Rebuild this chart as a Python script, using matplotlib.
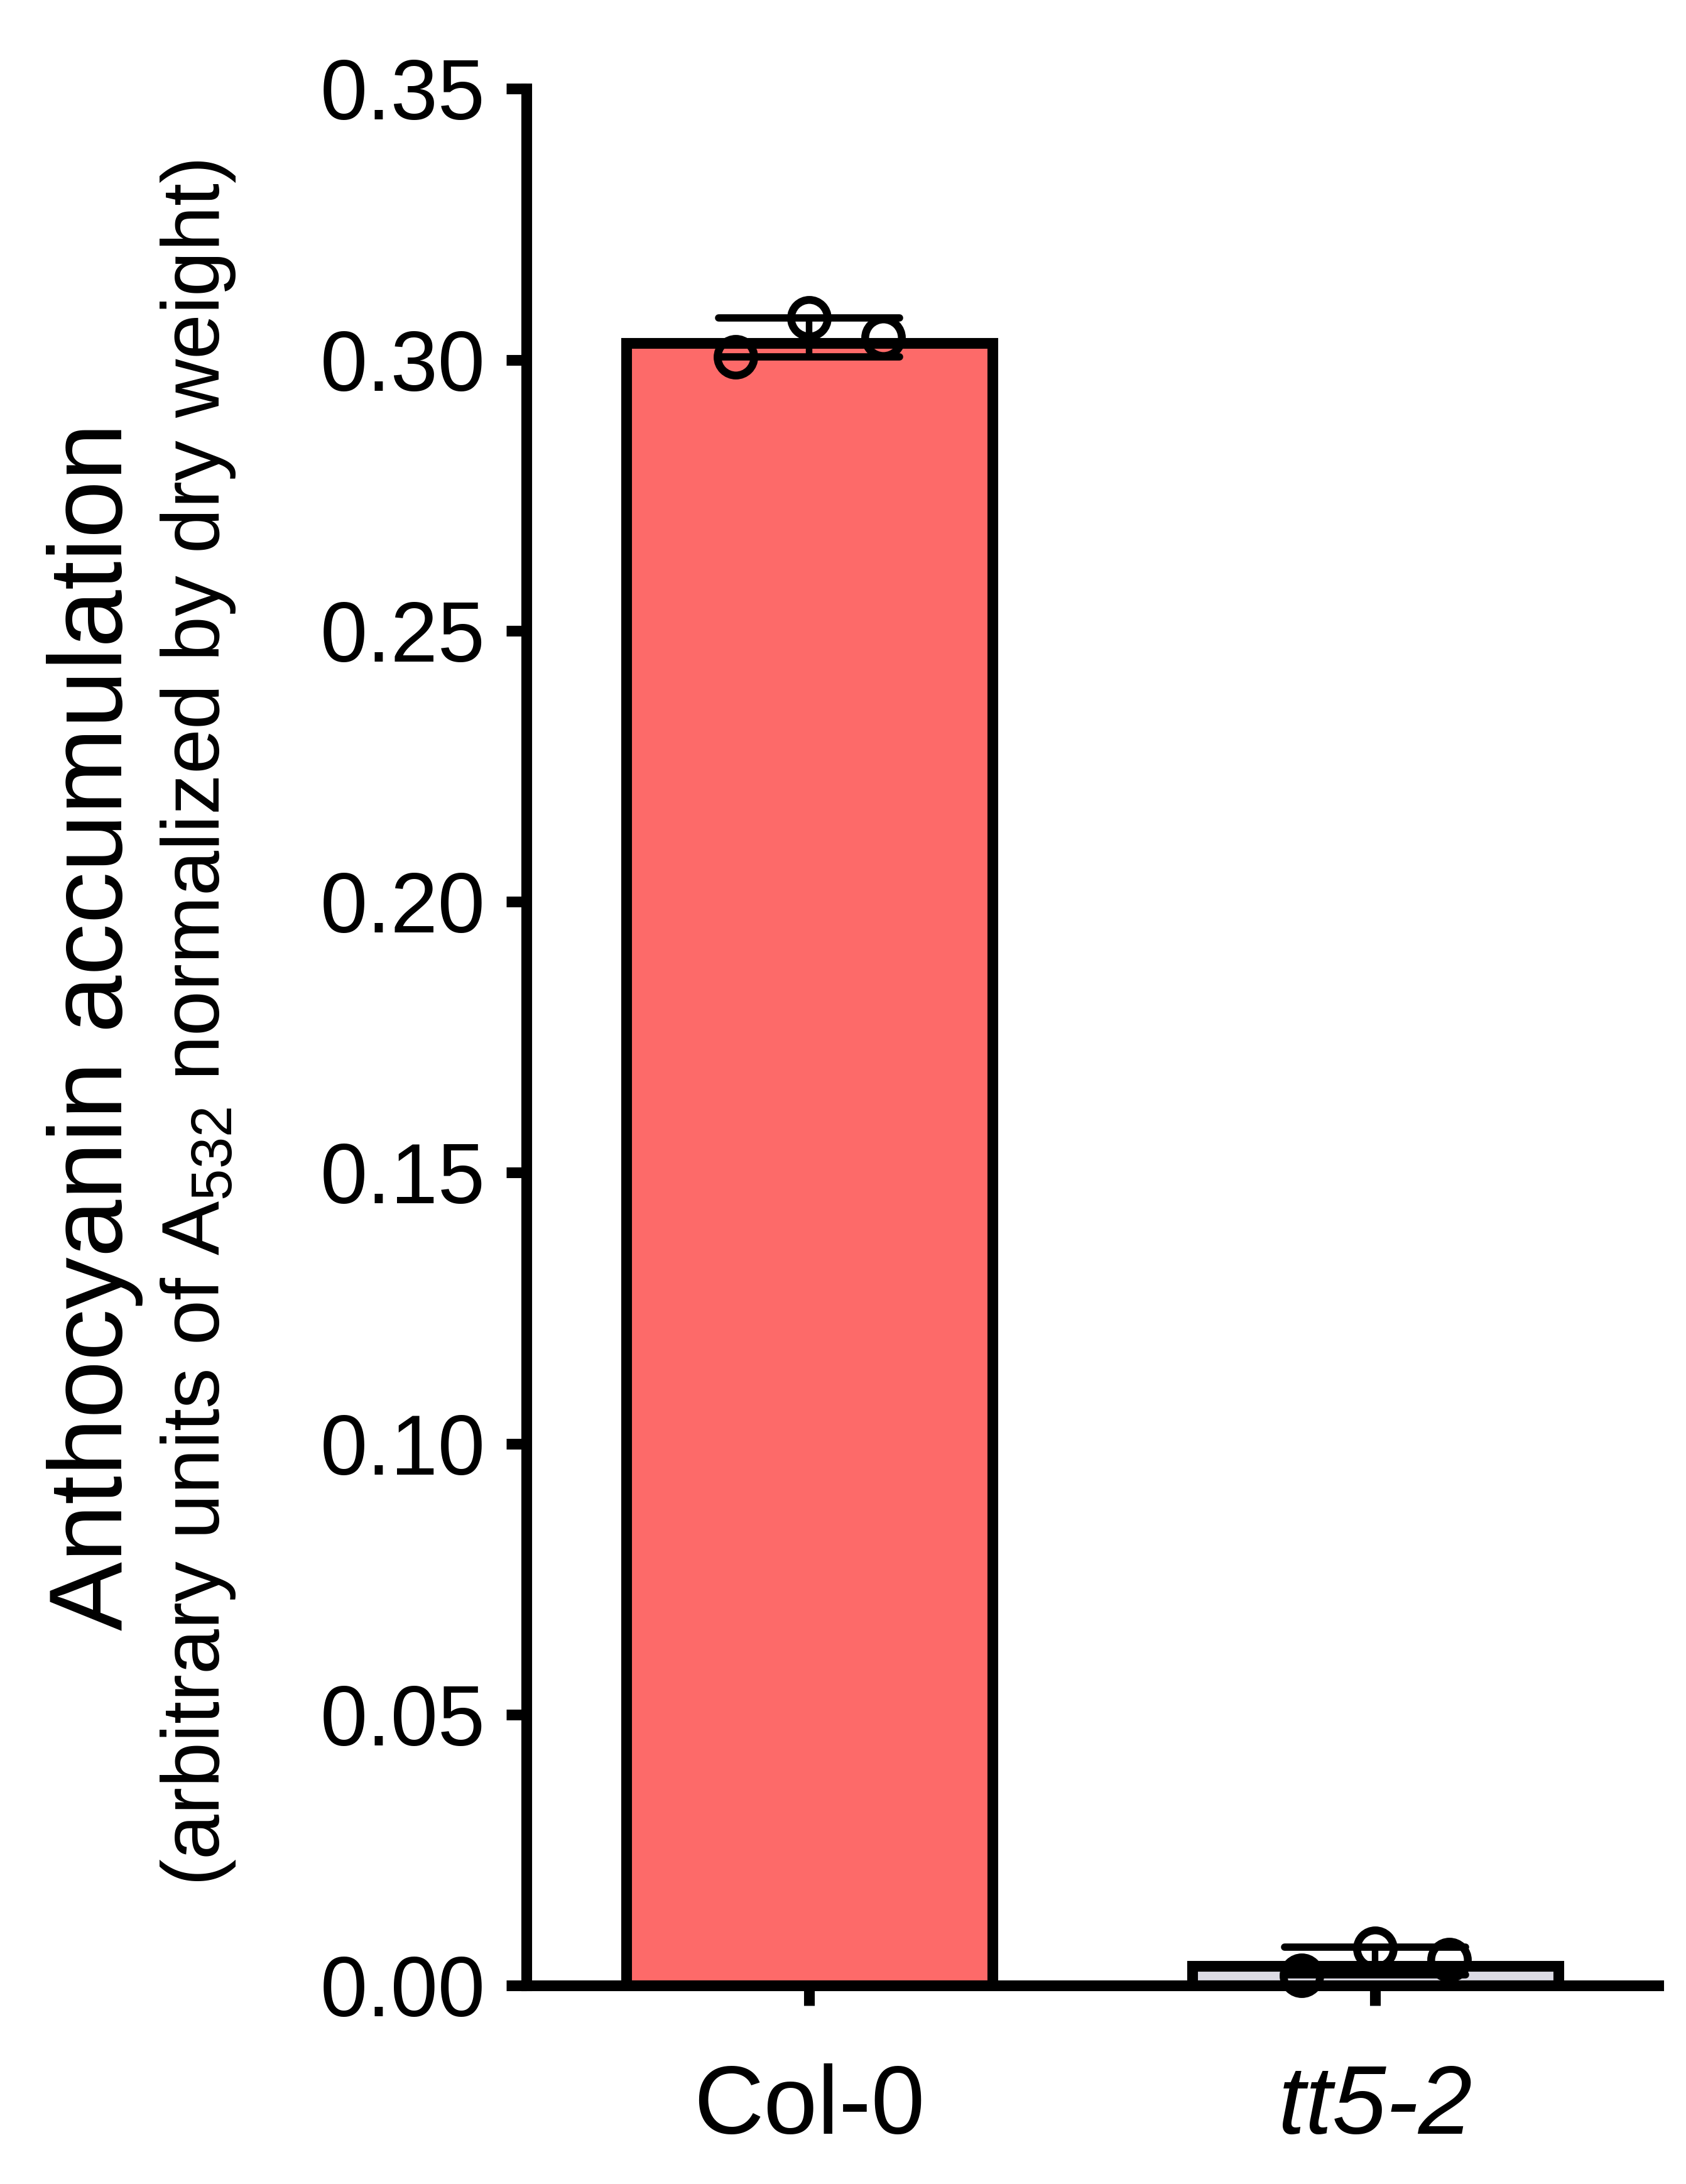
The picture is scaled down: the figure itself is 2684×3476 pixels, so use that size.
import numpy as np
import matplotlib
matplotlib.use('Agg')
import matplotlib.pyplot as plt
import matplotlib.ticker as plticker
from matplotlib.markers import MarkerStyle

plt.rcParams['font.family'] = ['Liberation Sans', 'DejaVu Sans']
plt.rcParams['mathtext.fontset'] = 'custom'
plt.rcParams['mathtext.rm'] = 'Liberation Sans'
plt.rcParams['mathtext.default'] = 'regular'

genotypes = ['Col-0', 'tt5-2']
replicates = [
    [0.3005, 0.3077, 0.3041],   # Col-0
    [0.0019, 0.0069, 0.0048],   # tt5-2
]
jitter = [-0.13, 0.0, 0.13]
bar_colors = ['#FD6A69', '#DCDBE4']
yticks = [0.00, 0.05, 0.10, 0.15, 0.20, 0.25, 0.30, 0.35]

means = [np.mean(r) for r in replicates]
sds = [np.std(r, ddof=1) for r in replicates]

DPI = 300
fig = plt.figure(figsize=(2684 / DPI, 3476 / DPI), dpi=DPI)
ax = fig.add_axes([0.3122, 0.0909, 0.6714, 0.8684])

lw = 4.1
ax.set_xlim(-0.5, 1.5)
ax.set_ylim(0, 0.35)

# bar border is drawn inside the bar (prism style), work out half line width in data units
fig.canvas.draw()
inv = ax.transData.inverted()
half_px = lw / 2 * DPI / 72
p0 = inv.transform((0, 0))
p1 = inv.transform((half_px, half_px))
dx, dy = p1[0] - p0[0], p1[1] - p0[1]

barWidth = 0.665
x = np.arange(len(genotypes))
for i in range(len(genotypes)):
    ax.bar(x[i], means[i] - dy, width=barWidth - 2 * dx, bottom=0,
           color=bar_colors[i], edgecolor='black', linewidth=lw, zorder=2)

eb = ax.errorbar(x, means, yerr=sds, fmt='none', ecolor='black',
                 elinewidth=2.5, capsize=34.5, capthick=2.8, zorder=3)
for cap in eb[1]:
    cap.set_marker(MarkerStyle('_', capstyle='round'))

for i in range(len(genotypes)):
    ax.plot(x[i] + np.array(jitter), replicates[i], linestyle='none', marker='o',
            markersize=14, markerfacecolor='none', markeredgecolor='black',
            markeredgewidth=3.0, zorder=4, clip_on=False)

ax.spines['top'].set_visible(False)
ax.spines['right'].set_visible(False)
ax.spines['left'].set_linewidth(lw)
ax.spines['bottom'].set_linewidth(lw)
ax.spines['left'].set_zorder(5)
ax.spines['bottom'].set_zorder(5)

ax.set_yticks(yticks)
ax.yaxis.set_major_formatter(plticker.FormatStrFormatter('%.2f'))
ax.tick_params(axis='y', length=7.7, width=lw, labelsize=32.4, pad=8)
ax.tick_params(axis='x', length=7.7, width=lw, labelsize=37, pad=22)
ax.set_xticks(x)
ax.set_xticklabels(genotypes)
ax.get_xticklabels()[1].set_style('italic')

fig.text(0.0723, 0.530, 'Anthocyanin accumulation', rotation=90,
         rotation_mode='anchor', ha='center', va='baseline', fontsize=39.5)
fig.text(0.1300, 0.5314, '(arbitrary units of A$_{532}$ normalized by dry weight)',
         rotation=90, rotation_mode='anchor', ha='center', va='baseline', fontsize=31)

fig.savefig('out.png', dpi=DPI)
